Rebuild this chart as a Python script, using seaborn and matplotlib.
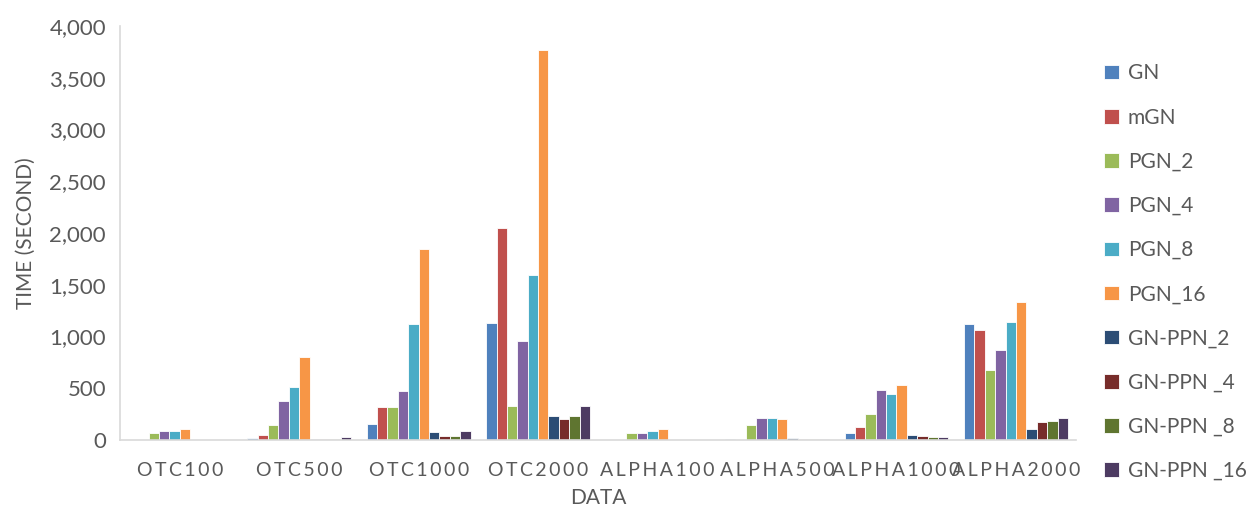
import pandas as pd
import numpy as np
import matplotlib.pyplot as plt
import seaborn as sns

# categories on the x axis
datasets = ['OTC100', 'OTC500', 'OTC1000', 'OTC2000',
            'ALPHA100', 'ALPHA500', 'ALPHA1000', 'ALPHA2000']

# run time (seconds) per method
gn        = [0, 15, 154, 1131, 0, 5, 70, 1125]
mgn       = [0, 48, 317, 2045, 0, 3, 122, 1064]
pgn_2     = [67, 141, 317, 333, 67, 144, 250, 679]
pgn_4     = [87, 372, 471, 958, 63, 212, 481, 865]
pgn_8     = [88, 513, 1125, 1596, 87, 212, 442, 1144]
pgn_16    = [103, 798, 1846, 3766, 106, 207, 529, 1333]
gnppn_2   = [2, 5, 80, 228, 0, 19, 48, 103]
gnppn_4   = [2, 5, 35, 202, 0, 8, 35, 173]
gnppn_8   = [2, 5, 38, 234, 0, 5, 29, 180]
gnppn_16  = [3, 29, 87, 324, 0, 5, 29, 212]

methods = ['GN', 'mGN', 'PGN_2', 'PGN_4', 'PGN_8', 'PGN_16',
           'GN-PPN_2', 'GN-PPN _4', 'GN-PPN _8', 'GN-PPN _16']
series = [gn, mgn, pgn_2, pgn_4, pgn_8, pgn_16,
          gnppn_2, gnppn_4, gnppn_8, gnppn_16]
colors = ['#4F81BD', '#C0504D', '#9BBB59', '#8064A2', '#4BACC6',
          '#F79646', '#2C4D75', '#772C2A', '#5F7530', '#4D3B62']

rows = []
for m, vals in zip(methods, series):
    for d, v in zip(datasets, vals):
        rows.append({'data': d, 'method': m, 'time': v})
df = pd.DataFrame(rows)

sns.set_style('white')
plt.rcParams['font.family'] = ['Lato', 'DejaVu Sans']
text_color = '#595959'

fig = plt.figure(figsize=(12.46, 5.11), dpi=100)
ax = fig.add_axes([0.0963, 0.139, 0.767, 0.81])

sns.barplot(data=df, x='data', y='time', hue='method', hue_order=methods,
            order=datasets, palette=colors, saturation=1, width=0.87, ax=ax,
            edgecolor='white', linewidth=0.6, errorbar=None)

ax.set_ylim(0, 4000)
ax.set_xlim(-0.5, len(datasets) - 0.5)
ax.set_yticks(np.arange(0, 4001, 500))
ax.set_yticklabels([f'{int(t):,}' for t in np.arange(0, 4001, 500)],
                   fontsize=16, color=text_color)
# spaced-out category labels (hair spaces between letters)
ax.set_xticks(range(len(datasets)))
ax.set_xticklabels(['\u200a\u200a'.join(d) for d in datasets], fontsize=14,
                   color=text_color)
ax.tick_params(axis='y', length=0, pad=10)
ax.tick_params(axis='x', length=0, pad=16)

ax.set_xlabel('DATA', fontsize=15, color=text_color, labelpad=6)
ax.set_ylabel('TIME (SECOND)', fontsize=15, color=text_color, labelpad=10)

for side in ['top', 'right']:
    ax.spines[side].set_visible(False)
for side in ['left', 'bottom']:
    ax.spines[side].set_color('#D9D9D9')
    ax.spines[side].set_linewidth(1.2)

ax.legend(loc='upper left', bbox_to_anchor=(1.01, 0.955), frameon=False,
          fontsize=15, labelcolor=text_color, handlelength=0.7,
          handleheight=0.7, handletextpad=0.45, labelspacing=1.16)

fig.savefig('out.png', dpi=100)
